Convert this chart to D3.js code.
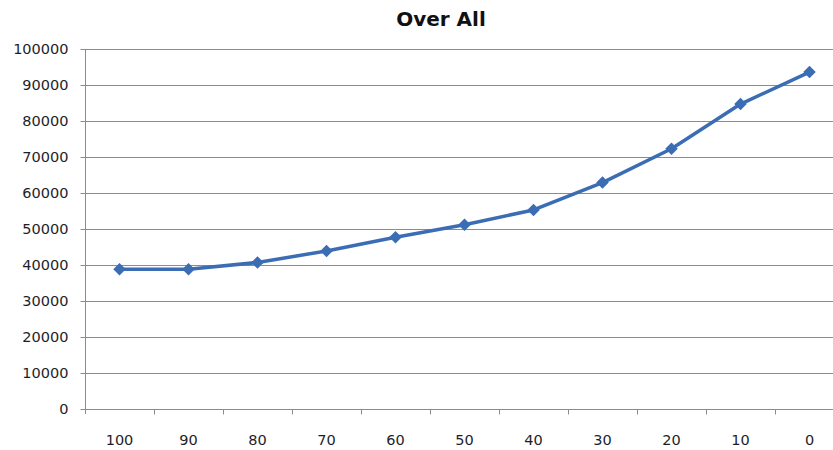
<!DOCTYPE html>
<html>
<head>
<meta charset="utf-8">
<script src="https://cdn.jsdelivr.net/npm/d3@7"></script>
<style>
  html, body { margin: 0; padding: 0; background: #fff; }
  svg { display: block; }
  text { font-family: "DejaVu Sans", sans-serif; }
</style>
</head>
<body>
<svg id="chart" width="833" height="450"></svg>
<script>
// Series data
const categories = ["100", "90", "80", "70", "60", "50", "40", "30", "20", "10", "0"];
const values = [38800, 38800, 40700, 43900, 47700, 51200, 55300, 62900, 72300, 84700, 93600];
const yTicks = [0, 10000, 20000, 30000, 40000, 50000, 60000, 70000, 80000, 90000, 100000];
const chartTitle = "Over All";

const svg = d3.select("#chart");
const W = 833, H = 450;
const plotLeft = 85, plotRight = 844, plotTop = 49, plotBottom = 409;

const x = d3.scaleBand().domain(categories).range([plotLeft, plotRight]).padding(0);
const y = d3.scaleLinear().domain([0, 100000]).range([plotBottom, plotTop]);

const gridColor = "#8c8c8c";
const textColor = "#1e1e2a";
const tickFont = "'DejaVu Sans', sans-serif";
const tickSize = 14.5;

// Horizontal gridlines
svg.append("g")
  .selectAll("line")
  .data(yTicks.filter(d => d > 0))
  .join("line")
  .attr("x1", plotLeft).attr("x2", W)
  .attr("y1", d => Math.round(y(d)) + 0.5).attr("y2", d => Math.round(y(d)) + 0.5)
  .attr("stroke", gridColor).attr("stroke-width", 1);

// Y axis
const yAxis = svg.append("g")
  .attr("transform", `translate(${plotLeft + 0.5},0)`)
  .call(d3.axisLeft(y).tickValues(yTicks).tickFormat(d3.format("d")).tickSize(5).tickPadding(12));
yAxis.select(".domain").attr("stroke", gridColor).attr("d", `M0,${plotTop}V${plotBottom + 5}`);
yAxis.selectAll(".tick line").attr("stroke", gridColor);
yAxis.selectAll(".tick text")
  .attr("font-size", tickSize).attr("fill", textColor)
  .attr("font-family", tickFont);

// X axis (category boundaries as ticks)
const xAxisG = svg.append("g").attr("transform", `translate(0,${plotBottom + 0.5})`);
xAxisG.append("line")
  .attr("x1", plotLeft).attr("x2", W)
  .attr("stroke", gridColor).attr("stroke-width", 1);
const boundaries = categories.map(c => x(c) + x.bandwidth());
xAxisG.selectAll("line.tk")
  .data(boundaries)
  .join("line")
  .attr("class", "tk")
  .attr("x1", d => Math.round(d) + 0.5).attr("x2", d => Math.round(d) + 0.5)
  .attr("y1", 0).attr("y2", 5)
  .attr("stroke", gridColor);
xAxisG.selectAll("text")
  .data(categories)
  .join("text")
  .attr("x", d => x(d) + x.bandwidth() / 2)
  .attr("y", 35)
  .attr("text-anchor", "middle")
  .attr("font-size", tickSize)
  .attr("font-family", tickFont)
  .attr("fill", textColor)
  .text(d => d);

// Title
svg.append("text")
  .attr("x", 441).attr("y", 26)
  .attr("text-anchor", "middle")
  .attr("font-size", 20).attr("font-weight", "bold")
  .attr("font-family", "'Open Sans', sans-serif")
  .attr("fill", "#111")
  .text(chartTitle);

// Line series
const lineColor = "#3b6db4";
const line = d3.line()
  .x((d, i) => x(categories[i]) + x.bandwidth() / 2)
  .y(d => y(d));
svg.append("path")
  .datum(values)
  .attr("d", line)
  .attr("fill", "none")
  .attr("stroke", lineColor)
  .attr("stroke-width", 3.5)
  .attr("stroke-linejoin", "round");

// Diamond markers
const diamond = d3.symbol().type(d3.symbolDiamond2).size(100);
svg.append("g")
  .selectAll("path")
  .data(values)
  .join("path")
  .attr("transform", (d, i) => `translate(${x(categories[i]) + x.bandwidth() / 2},${y(d)})`)
  .attr("d", diamond)
  .attr("fill", lineColor);
</script>
</body>
</html>
